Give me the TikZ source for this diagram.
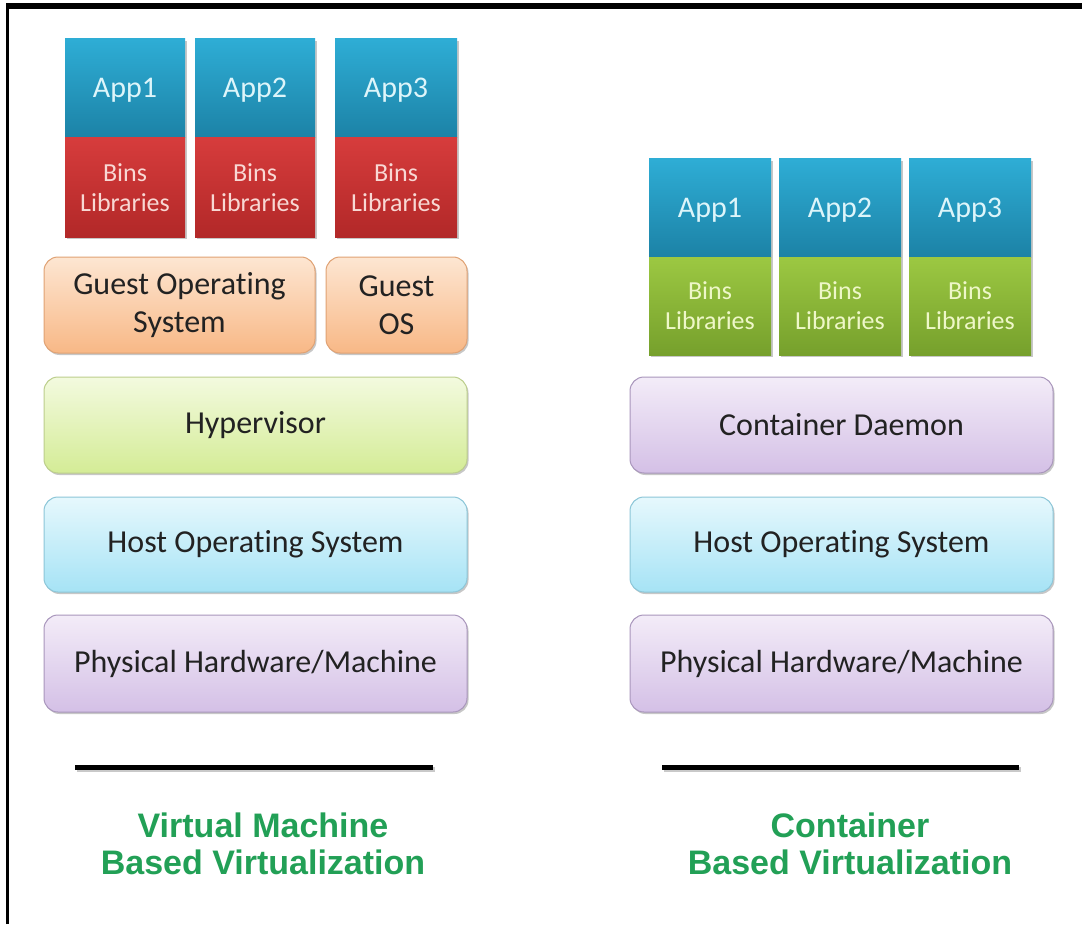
\documentclass[tikz,border=0pt]{standalone}
\usepackage{fontspec}
\setmainfont{Carlito}[Ligatures={NoCommon}]
\newfontfamily\titlefont{Liberation Sans}
\usetikzlibrary{shadows}
\definecolor{appT}{HTML}{2EADD5}
\definecolor{appB}{HTML}{1C82A6}
\definecolor{appTxt}{HTML}{DDF5FA}
\definecolor{redT}{HTML}{D63C3C}
\definecolor{redB}{HTML}{B22828}
\definecolor{redTxt}{HTML}{F8D8D4}
\definecolor{grnT}{HTML}{9CC842}
\definecolor{grnB}{HTML}{76A02C}
\definecolor{grnTxt}{HTML}{EEF7C8}
\definecolor{txtDark}{HTML}{222222}
\definecolor{orT}{HTML}{FDE6D2}
\definecolor{orB}{HTML}{F8B886}
\definecolor{orD}{HTML}{E0A274}
\definecolor{hyT}{HTML}{F3FADF}
\definecolor{hyB}{HTML}{D4EC96}
\definecolor{hyD}{HTML}{BCCE8C}
\definecolor{hoT}{HTML}{E6F8FD}
\definecolor{hoB}{HTML}{A6E3F5}
\definecolor{hoD}{HTML}{8CC6D8}
\definecolor{phT}{HTML}{F3ECF8}
\definecolor{phB}{HTML}{D4C0E6}
\definecolor{phD}{HTML}{A996BC}
\definecolor{titleG}{HTML}{22A056}
\begin{document}
\begin{tikzpicture}[x=1pt,y=-1pt,
  every node/.style={inner sep=0pt,outer sep=0pt},
  shad/.style={drop shadow={shadow xshift=1.5pt,shadow yshift=-2pt,opacity=0.22,fill=black}},
  appbox/.style={rectangle,shad,top color=appT,bottom color=appB,text=appTxt,
    text height=19pt,text depth=0pt,font=\fontsize{30}{34}\selectfont},
  redlib/.style={rectangle,shad,top color=redT,bottom color=redB,text=redTxt,align=center,
    font=\fontsize{26}{30}\selectfont},
  grnlib/.style={rectangle,shad,top color=grnT,bottom color=grnB,text=grnTxt,align=center,
    font=\fontsize{26}{30}\selectfont},
  layer/.style={rectangle,rounded corners=14pt,line width=1pt,shad,text=txtDark,align=center,
    font=\fontsize{32}{38}\selectfont},
  orlayer/.style={layer,draw=orD,top color=orT,bottom color=orB},
  hylayer/.style={layer,draw=hyD,top color=hyT,bottom color=hyB},
  holayer/.style={layer,draw=hoD,top color=hoT,bottom color=hoB},
  phlayer/.style={layer,draw=phD,top color=phT,bottom color=phB},
  baseline/.style={line width=5pt,black},
  titletxt/.style={text=titleG,align=center,font=\titlefont\bfseries\fontsize{34}{37}\selectfont}
]
\fill[white] (0,0) rectangle (1082,924);
% frame
\coordinate (fb) at (7,924);
\coordinate (fc) at (7,6);
\coordinate (ft1) at (5.5,3.5);
\coordinate (ft2) at (1082,9);
\fill[black] (ft1) rectangle (ft2);
\draw[line width=3pt] (fb) -- (fc);

% ---------- left: VM stack ----------
\node[appbox,minimum width=120pt,minimum height=99pt] (la1) at (125,88.5) {App1};
\node[appbox,minimum width=120pt,minimum height=99pt] (la2) at (255,88.5) {App2};
\node[appbox,minimum width=122pt,minimum height=99pt] (la3) at (396,88.5) {App3};
\node[redlib,minimum width=120pt,minimum height=99pt] (lb1) at (125,187.5) {Bins\\Libraries};
\node[redlib,minimum width=120pt,minimum height=99pt] (lb2) at (255,187.5) {Bins\\Libraries};
\node[redlib,minimum width=122pt,minimum height=99pt] (lb3) at (396,187.5) {Bins\\Libraries};

\node[orlayer,minimum width=271pt,minimum height=96pt] (g1) at (179.5,305) {Guest Operating\\System};
\node[orlayer,minimum width=141pt,minimum height=96pt] (g2) at (396.5,305) {Guest\\OS};
\node[hylayer,minimum width=423pt,minimum height=96pt] (hyp) at (255.5,425) {Hypervisor};
\node[holayer,minimum width=423pt,minimum height=95pt] (hosl) at (255.5,544.5) {Host Operating System};
\node[phlayer,minimum width=423pt,minimum height=97pt] (phl) at (255.5,663.5) {Physical Hardware/Machine};

% ---------- right: container stack ----------
\node[appbox,minimum width=122pt,minimum height=98pt] (ra1) at (710,208) {App1};
\node[appbox,minimum width=122pt,minimum height=98pt] (ra2) at (840,208) {App2};
\node[appbox,minimum width=122pt,minimum height=98pt] (ra3) at (970,208) {App3};
\node[grnlib,minimum width=122pt,minimum height=98pt] (rb1) at (710,306) {Bins\\Libraries};
\node[grnlib,minimum width=122pt,minimum height=98pt] (rb2) at (840,306) {Bins\\Libraries};
\node[grnlib,minimum width=122pt,minimum height=98pt] (rb3) at (970,306) {Bins\\Libraries};

\node[phlayer,minimum width=423pt,minimum height=96pt] (dae) at (841.5,425) {Container Daemon};
\node[holayer,minimum width=423pt,minimum height=95pt] (hosr) at (841.5,544.5) {Host Operating System};
\node[phlayer,minimum width=423pt,minimum height=97pt] (phr) at (841.5,663.5) {Physical Hardware/Machine};

% ---------- separator lines ----------
\coordinate (l1a) at (75,767);
\coordinate (l1b) at (433,767);
\coordinate (l2a) at (662,767);
\coordinate (l2b) at (1019,767);
\draw[line width=5pt,black!35,opacity=0.6,transform canvas={xshift=1.5pt,yshift=-2.5pt}] (l1a) -- (l1b);
\draw[line width=5pt,black!35,opacity=0.6,transform canvas={xshift=1.5pt,yshift=-2.5pt}] (l2a) -- (l2b);
\draw[baseline] (l1a) -- (l1b);
\draw[baseline] (l2a) -- (l2b);

% ---------- titles ----------
\node[titletxt] (t1) at (263,844) {Virtual Machine\\Based Virtualization};
\node[titletxt] (t2) at (850,844) {Container\\Based Virtualization};

\path[use as bounding box] (0,0) rectangle (1082,924);
\end{tikzpicture}
\end{document}
